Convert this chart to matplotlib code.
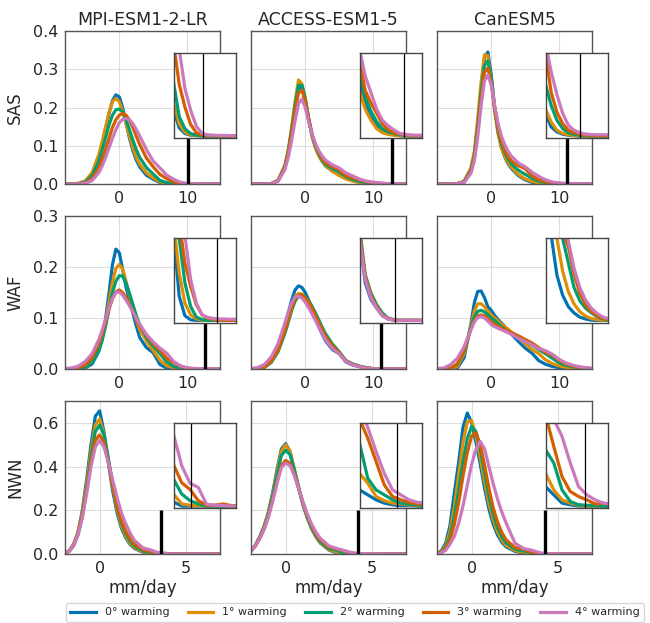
import matplotlib
matplotlib.use("Agg")
import matplotlib.pyplot as plt
from matplotlib.lines import Line2D

# x grids (mm/day)
x_wide = [-8, -7, -6, -5, -4, -3, -2.5, -2, -1.5, -1, -0.5, 0, 0.5, 1, 1.5, 2, 2.5, 3,
          4, 5, 6, 7, 8, 9, 10, 11, 12, 13, 14, 15, 16]
x_nwn = [-2, -1.75, -1.5, -1.25, -1, -0.75, -0.5, -0.25, 0, 0.25, 0.5, 0.75, 1, 1.25, 1.5,
         1.75, 2, 2.5, 3, 3.25, 3.5, 3.75, 4, 4.25, 4.5, 4.75, 5, 5.5, 6, 7]

models = ["MPI-ESM1-2-LR", "ACCESS-ESM1-5", "CanESM5"]
regions = ["SAS", "WAF", "NWN"]
warming = ["0° warming", "1° warming", "2° warming", "3° warming", "4° warming"]

# densities, one list per warming level (0..4 degrees)
sas_mpi = [
    [0, 0, 0.001, 0.006, 0.025, 0.07, 0.105, 0.145, 0.185, 0.218, 0.233, 0.228, 0.2, 0.16, 0.12, 0.088, 0.063, 0.045, 0.023, 0.0125, 0.004, 0.0012, 0.0004, 0.0002, 0.0001, 0, 0, 0, 0, 0, 0],
    [0, 0, 0.002, 0.008, 0.03, 0.078, 0.112, 0.15, 0.188, 0.215, 0.224, 0.215, 0.19, 0.158, 0.125, 0.095, 0.07, 0.052, 0.029, 0.0156, 0.006, 0.0018, 0.0006, 0.0003, 0.0001, 0, 0, 0, 0, 0, 0],
    [0, 0, 0.001, 0.005, 0.022, 0.06, 0.09, 0.122, 0.155, 0.18, 0.194, 0.196, 0.188, 0.168, 0.142, 0.115, 0.09, 0.07, 0.043, 0.026, 0.0094, 0.0035, 0.0012, 0.0004, 0.0002, 0, 0, 0, 0, 0, 0],
    [0, 0, 0, 0.003, 0.014, 0.042, 0.065, 0.092, 0.12, 0.148, 0.168, 0.18, 0.184, 0.18, 0.167, 0.148, 0.125, 0.104, 0.068, 0.045, 0.025, 0.014, 0.0056, 0.0016, 0.0005, 0.0003, 0.0002, 0.0001, 0, 0, 0],
    [0, 0, 0, 0.002, 0.009, 0.03, 0.048, 0.07, 0.095, 0.12, 0.142, 0.16, 0.169, 0.171, 0.168, 0.158, 0.143, 0.126, 0.09, 0.06, 0.042, 0.023, 0.0125, 0.0047, 0.0013, 0.0005, 0.0004, 0.0003, 0.0003, 0.0002, 0.0002],
]
sas_access = [
    [0, 0, 0, 0.001, 0.009, 0.046, 0.085, 0.14, 0.2, 0.25, 0.255, 0.22, 0.168, 0.125, 0.095, 0.074, 0.059, 0.047, 0.034, 0.026, 0.016, 0.009, 0.005, 0.002, 0.0013, 0.0006, 0.0002, 0.0001, 0, 0, 0],
    [0, 0, 0, 0.001, 0.01, 0.05, 0.09, 0.15, 0.215, 0.272, 0.262, 0.225, 0.17, 0.125, 0.095, 0.074, 0.06, 0.048, 0.033, 0.022, 0.013, 0.0076, 0.0036, 0.0016, 0.0008, 0.0004, 0.0002, 0.0001, 0, 0, 0],
    [0, 0, 0, 0.001, 0.009, 0.046, 0.085, 0.142, 0.205, 0.258, 0.258, 0.222, 0.172, 0.13, 0.1, 0.079, 0.064, 0.052, 0.04, 0.032, 0.019, 0.012, 0.007, 0.0036, 0.002, 0.0013, 0.0006, 0.0003, 0.0001, 0, 0],
    [0, 0, 0, 0.001, 0.008, 0.043, 0.08, 0.133, 0.19, 0.238, 0.245, 0.215, 0.17, 0.13, 0.102, 0.082, 0.067, 0.056, 0.045, 0.037, 0.022, 0.016, 0.011, 0.006, 0.003, 0.0016, 0.001, 0.0005, 0.0003, 0.0002, 0.0002],
    [0, 0, 0, 0.001, 0.007, 0.038, 0.07, 0.115, 0.165, 0.21, 0.222, 0.2, 0.163, 0.13, 0.105, 0.087, 0.073, 0.062, 0.05, 0.042, 0.029, 0.021, 0.013, 0.0076, 0.005, 0.003, 0.0013, 0.0008, 0.0005, 0.0004, 0.0004],
]
sas_can = [
    [0, 0, 0, 0.001, 0.006, 0.035, 0.075, 0.155, 0.25, 0.33, 0.345, 0.285, 0.2, 0.135, 0.095, 0.07, 0.052, 0.04, 0.022, 0.0107, 0.0044, 0.002, 0.0009, 0.0004, 0.0002, 0, 0, 0, 0, 0, 0],
    [0, 0, 0, 0.001, 0.008, 0.042, 0.085, 0.17, 0.265, 0.338, 0.335, 0.27, 0.19, 0.132, 0.095, 0.072, 0.055, 0.043, 0.025, 0.013, 0.0068, 0.0028, 0.0013, 0.0006, 0.0003, 0.0001, 0, 0, 0, 0, 0],
    [0, 0, 0, 0.001, 0.006, 0.036, 0.075, 0.15, 0.24, 0.31, 0.322, 0.272, 0.198, 0.142, 0.105, 0.082, 0.065, 0.052, 0.036, 0.025, 0.0147, 0.0076, 0.0036, 0.0016, 0.0008, 0.0004, 0.0002, 0, 0, 0, 0],
    [0, 0, 0, 0.001, 0.005, 0.032, 0.068, 0.138, 0.225, 0.292, 0.303, 0.265, 0.2, 0.148, 0.112, 0.088, 0.072, 0.06, 0.048, 0.04, 0.021, 0.0115, 0.006, 0.0028, 0.0016, 0.0009, 0.0005, 0.0003, 0.0002, 0.0001, 0.0001],
    [0, 0, 0, 0.001, 0.004, 0.028, 0.06, 0.122, 0.205, 0.27, 0.285, 0.258, 0.205, 0.158, 0.125, 0.102, 0.085, 0.072, 0.055, 0.045, 0.031, 0.02, 0.011, 0.0052, 0.0028, 0.0016, 0.001, 0.0007, 0.0006, 0.0006, 0.0006],
]
waf_mpi = [
    [0, 0, 0, 0.002, 0.01, 0.035, 0.06, 0.1, 0.15, 0.205, 0.235, 0.228, 0.195, 0.16, 0.135, 0.11, 0.085, 0.062, 0.042, 0.032, 0.0088, 0.0017, 0.0002, 0, 0, 0, 0, 0, 0, 0, 0],
    [0, 0, 0.001, 0.004, 0.014, 0.04, 0.062, 0.094, 0.132, 0.17, 0.197, 0.205, 0.196, 0.172, 0.145, 0.12, 0.097, 0.078, 0.055, 0.036, 0.0173, 0.0063, 0.002, 0.0005, 0.0001, 0, 0, 0, 0, 0, 0],
    [0, 0, 0.001, 0.004, 0.013, 0.037, 0.057, 0.085, 0.118, 0.15, 0.172, 0.183, 0.182, 0.168, 0.148, 0.127, 0.105, 0.087, 0.062, 0.045, 0.03, 0.0137, 0.0051, 0.0012, 0.0003, 0, 0, 0, 0, 0, 0],
    [0, 0.001, 0.003, 0.008, 0.022, 0.05, 0.07, 0.093, 0.118, 0.138, 0.151, 0.155, 0.15, 0.14, 0.127, 0.113, 0.098, 0.085, 0.066, 0.05, 0.036, 0.021, 0.0124, 0.0057, 0.002, 0.0008, 0.0003, 0.0001, 0, 0, 0],
    [0.001, 0.002, 0.006, 0.015, 0.03, 0.058, 0.077, 0.098, 0.12, 0.138, 0.15, 0.151, 0.145, 0.135, 0.124, 0.112, 0.1, 0.088, 0.068, 0.053, 0.041, 0.031, 0.0149, 0.0063, 0.002, 0.0011, 0.0007, 0.0005, 0.0005, 0.0004, 0.0004],
]
waf_access = [
    [0, 0.001, 0.006, 0.02, 0.045, 0.085, 0.11, 0.135, 0.155, 0.163, 0.16, 0.15, 0.135, 0.118, 0.1, 0.083, 0.068, 0.055, 0.038, 0.03, 0.0137, 0.0076, 0.0045, 0.0017, 0.0005, 0.0001, 0, 0, 0, 0, 0],
    [0, 0.001, 0.005, 0.017, 0.04, 0.08, 0.103, 0.125, 0.142, 0.148, 0.147, 0.14, 0.13, 0.117, 0.102, 0.087, 0.073, 0.06, 0.042, 0.031, 0.0155, 0.0088, 0.0049, 0.0019, 0.0006, 0.0001, 0, 0, 0, 0, 0],
    [0, 0, 0.003, 0.013, 0.034, 0.07, 0.092, 0.115, 0.133, 0.143, 0.145, 0.142, 0.134, 0.123, 0.11, 0.096, 0.082, 0.069, 0.049, 0.034, 0.0167, 0.01, 0.0057, 0.0027, 0.0008, 0.0003, 0, 0, 0, 0, 0],
    [0, 0.001, 0.004, 0.015, 0.037, 0.075, 0.097, 0.12, 0.137, 0.145, 0.145, 0.14, 0.131, 0.119, 0.105, 0.091, 0.077, 0.064, 0.045, 0.032, 0.0161, 0.009, 0.0051, 0.002, 0.0007, 0.0002, 0, 0, 0, 0, 0],
    [0.001, 0.003, 0.009, 0.024, 0.05, 0.09, 0.112, 0.13, 0.141, 0.143, 0.139, 0.131, 0.12, 0.108, 0.095, 0.082, 0.069, 0.057, 0.04, 0.03, 0.0149, 0.0082, 0.0045, 0.0018, 0.0005, 0.0001, 0, 0, 0, 0, 0],
]
waf_can = [
    [0, 0, 0, 0.002, 0.022, 0.088, 0.13, 0.152, 0.153, 0.14, 0.122, 0.115, 0.105, 0.097, 0.09, 0.083, 0.076, 0.068, 0.054, 0.041, 0.031, 0.0165, 0.0092, 0.005, 0.0027, 0.0012, 0.0005, 0.0001, 0, 0, 0],
    [0, 0, 0.001, 0.005, 0.03, 0.085, 0.113, 0.128, 0.128, 0.122, 0.113, 0.106, 0.1, 0.094, 0.088, 0.083, 0.078, 0.072, 0.062, 0.05, 0.038, 0.03, 0.018, 0.0105, 0.006, 0.0032, 0.0016, 0.0007, 0.0003, 0.0001, 0],
    [0, 0, 0.002, 0.009, 0.035, 0.082, 0.102, 0.113, 0.115, 0.112, 0.106, 0.1, 0.095, 0.089, 0.083, 0.078, 0.074, 0.07, 0.063, 0.055, 0.047, 0.038, 0.03, 0.021, 0.012, 0.0072, 0.0045, 0.0028, 0.0014, 0.0006, 0.0001],
    [0, 0, 0.002, 0.01, 0.037, 0.078, 0.095, 0.104, 0.106, 0.104, 0.099, 0.093, 0.088, 0.084, 0.08, 0.077, 0.074, 0.071, 0.065, 0.058, 0.051, 0.042, 0.0325, 0.027, 0.017, 0.01, 0.0058, 0.0033, 0.0017, 0.0008, 0.0003],
    [0.001, 0.002, 0.0085, 0.021, 0.044, 0.077, 0.092, 0.101, 0.103, 0.1, 0.094, 0.087, 0.083, 0.08, 0.077, 0.074, 0.071, 0.068, 0.06, 0.054, 0.0475, 0.04, 0.036, 0.029, 0.019, 0.012, 0.0075, 0.0045, 0.0026, 0.0013, 0.0006],
]
nwn_mpi = [
    [0.003, 0.015, 0.045, 0.1, 0.2, 0.34, 0.5, 0.63, 0.655, 0.56, 0.42, 0.29, 0.19, 0.12, 0.075, 0.045, 0.026, 0.008, 0.001, 0, 0, 0, 0, 0, 0, 0, 0, 0, 0, 0],
    [0.003, 0.015, 0.045, 0.098, 0.19, 0.32, 0.47, 0.59, 0.618, 0.55, 0.43, 0.31, 0.205, 0.13, 0.082, 0.05, 0.03, 0.01, 0.0029, 0.0005, 0.0002, 0.0001, 0, 0, 0, 0, 0, 0, 0, 0],
    [0.002, 0.012, 0.038, 0.088, 0.175, 0.3, 0.44, 0.56, 0.59, 0.545, 0.44, 0.32, 0.22, 0.145, 0.095, 0.06, 0.037, 0.014, 0.0065, 0.0029, 0.0013, 0.0005, 0, 0, 0, 0, 0, 0, 0, 0],
    [0.003, 0.014, 0.042, 0.093, 0.175, 0.29, 0.42, 0.52, 0.545, 0.51, 0.42, 0.315, 0.225, 0.155, 0.105, 0.07, 0.045, 0.02, 0.01, 0.0056, 0.004, 0.0013, 0.0002, 0.0002, 0.0005, 0.0001, 0, 0, 0, 0],
    [0.003, 0.013, 0.04, 0.088, 0.165, 0.275, 0.4, 0.49, 0.52, 0.49, 0.42, 0.34, 0.26, 0.19, 0.14, 0.097, 0.063, 0.028, 0.0173, 0.0097, 0.0055, 0.0045, 0.0004, 0.0002, 0.0001, 0, 0, 0, 0, 0],
]
nwn_access = [
    [0.015, 0.04, 0.078, 0.125, 0.19, 0.28, 0.385, 0.48, 0.505, 0.47, 0.385, 0.3, 0.225, 0.165, 0.115, 0.078, 0.05, 0.018, 0.0039, 0.0027, 0.0015, 0.0007, 0.0003, 0.0001, 0.0001, 0, 0, 0, 0, 0],
    [0.015, 0.04, 0.078, 0.125, 0.188, 0.275, 0.378, 0.47, 0.5, 0.47, 0.39, 0.305, 0.228, 0.166, 0.117, 0.08, 0.052, 0.02, 0.0079, 0.0055, 0.0023, 0.0013, 0.0007, 0.0005, 0.0003, 0.0001, 0, 0, 0, 0],
    [0.014, 0.038, 0.074, 0.12, 0.18, 0.265, 0.36, 0.45, 0.475, 0.455, 0.385, 0.305, 0.232, 0.17, 0.122, 0.085, 0.057, 0.025, 0.0152, 0.0067, 0.0039, 0.0027, 0.0015, 0.0007, 0.0005, 0.0002, 0.0001, 0, 0, 0],
    [0.014, 0.036, 0.07, 0.112, 0.17, 0.245, 0.33, 0.405, 0.428, 0.415, 0.365, 0.3, 0.235, 0.178, 0.13, 0.093, 0.065, 0.032, 0.021, 0.0164, 0.0108, 0.0051, 0.0023, 0.0015, 0.0009, 0.0005, 0.0003, 0.0002, 0.0001, 0],
    [0.015, 0.037, 0.07, 0.112, 0.168, 0.24, 0.322, 0.395, 0.416, 0.405, 0.36, 0.3, 0.238, 0.182, 0.136, 0.1, 0.072, 0.037, 0.024, 0.019, 0.0132, 0.0079, 0.0039, 0.0027, 0.0015, 0.0009, 0.0007, 0.0005, 0.0003, 0.0001],
]
nwn_can = [
    [0.003, 0.015, 0.05, 0.13, 0.28, 0.42, 0.58, 0.645, 0.6, 0.51, 0.41, 0.3, 0.205, 0.135, 0.086, 0.053, 0.032, 0.012, 0.0047, 0.0027, 0.0007, 0.0003, 0, 0, 0, 0, 0, 0, 0, 0],
    [0.003, 0.012, 0.04, 0.105, 0.215, 0.36, 0.51, 0.605, 0.61, 0.54, 0.44, 0.33, 0.23, 0.155, 0.1, 0.063, 0.038, 0.015, 0.0079, 0.0039, 0.0015, 0.0007, 0.0002, 0, 0, 0, 0, 0, 0, 0],
    [0.002, 0.009, 0.03, 0.08, 0.17, 0.29, 0.42, 0.53, 0.583, 0.56, 0.48, 0.37, 0.265, 0.18, 0.12, 0.078, 0.05, 0.022, 0.0136, 0.0104, 0.0039, 0.0011, 0.0003, 0.0002, 0.0001, 0, 0, 0, 0, 0],
    [0.002, 0.007, 0.024, 0.063, 0.135, 0.235, 0.355, 0.465, 0.54, 0.555, 0.5, 0.405, 0.3, 0.21, 0.145, 0.097, 0.064, 0.03, 0.022, 0.0144, 0.0071, 0.0035, 0.0023, 0.0015, 0.0005, 0.0007, 0.0002, 0.0001, 0, 0],
    [0.001, 0.005, 0.017, 0.045, 0.08, 0.14, 0.22, 0.315, 0.41, 0.48, 0.515, 0.48, 0.4, 0.32, 0.25, 0.19, 0.14, 0.05, 0.025, 0.021, 0.0168, 0.0104, 0.0047, 0.0027, 0.0015, 0.0007, 0.0005, 0.0003, 0.0001, 0],
]

# threshold (mm/day) marked by the black line, per model
thr_sas = [10.1, 12.85, 11.1]
thr_waf = [12.7, 11.2, None]
thr_nwn = [3.52, 4.15, 4.21]

colors = ["#0173b2", "#de8f05", "#029e73", "#d55e00", "#cc78bc"]
panels = [[sas_mpi, sas_access, sas_can],
          [waf_mpi, waf_access, waf_can],
          [nwn_mpi, nwn_access, nwn_can]]
xgrid = [x_wide, x_wide, x_nwn]
thresholds = [thr_sas, thr_waf, thr_nwn]

xlims = [(-8, 14.85), (-8, 14.85), (-2, 6.95)]
xticks = [[0, 10], [0, 10], [0, 5]]
ylims = [(0, 0.4), (0, 0.3), (0, 0.7)]
yticks = [[0, 0.1, 0.2, 0.3, 0.4], [0, 0.1, 0.2, 0.3], [0, 0.2, 0.4, 0.6]]
in_xlims = [(5, 16), (5, 16), (3, 4.9)]
in_ylims = [(-0.001, 0.04), (-0.001, 0.03), (-0.0005, 0.02)]

plt.rcParams["font.family"] = "DejaVu Sans"
text_col = "#262626"

W, H = 650, 623
fig = plt.figure(figsize=(W / 100, H / 100), dpi=100)
lefts = [65, 251, 437]
tops = [31, 216, 401]
aw, ah = 155, 153

for r in range(3):
    for c in range(3):
        ax = fig.add_axes([lefts[c] / W, 1 - (tops[r] + ah) / H, aw / W, ah / H])
        x = xgrid[r]
        for k in range(5):
            ax.plot(x, panels[r][c][k], color=colors[k], lw=2.3)
        thr = thresholds[r][c]
        if thr is not None:
            ax.vlines(thr, 0, 0.2, color="black", lw=2.4, zorder=3)
        ax.set_xlim(*xlims[r])
        ax.set_ylim(*ylims[r])
        ax.set_xticks(xticks[r])
        ax.set_yticks(yticks[r])
        ax.grid(True, color="#dddddd", lw=0.8)
        ax.set_axisbelow(True)
        for s in ax.spines.values():
            s.set_color("#555555")
            s.set_linewidth(1.0)
        ax.tick_params(length=0, labelsize=11.5, colors=text_col, pad=5)
        if c > 0:
            ax.tick_params(labelleft=False)
        else:
            ax.set_ylabel(regions[r], fontsize=12, color=text_col, labelpad=6)
        if r == 0:
            ax.set_title(models[c], fontsize=12.5, color=text_col, pad=4)
        if r == 2:
            ax.set_xlabel("mm/day", fontsize=12, color=text_col, labelpad=2)

        ins = ax.inset_axes([0.70, 0.30, 0.405, 0.555])
        for k in range(5):
            ins.plot(x, panels[r][c][k], color=colors[k], lw=2.3)
        if thr is not None:
            ins.axvline(thr, color="black", lw=0.9)
        ins.set_xlim(*in_xlims[r])
        ins.set_ylim(*in_ylims[r])
        ins.set_xticks([])
        ins.set_yticks([])
        ins.set_facecolor("white")
        for s in ins.spines.values():
            s.set_color("#444444")
            s.set_linewidth(1.0)

handles = [Line2D([], [], color=col, lw=2.3) for col in colors]
fig.legend(handles, warming, loc="upper left", bbox_to_anchor=(66 / W, 1 - 603 / H),
           ncol=5, fontsize=8, handlelength=2.3, columnspacing=1.65, frameon=True,
           edgecolor="#cccccc", labelcolor=text_col, borderaxespad=0)

fig.savefig("out.png", dpi=100)
